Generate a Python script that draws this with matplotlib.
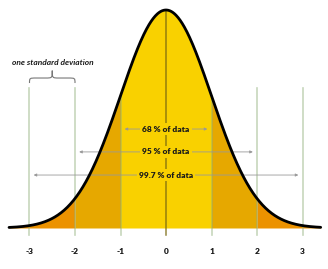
import numpy as np
import matplotlib.pyplot as plt
from matplotlib.path import Path
from matplotlib.patches import PathPatch

# standard deviations marked on the axis
ticks = [-3, -2, -1, 0, 1, 2, 3]
tick_labels = ['-3', '-2', '-1', '0', '1', '2', '3']
# band edges and their fill colours
bands = [(-3.45, -3), (-3, -2), (-2, -1), (-1, 1), (1, 2), (2, 3), (3, 3.4)]
band_colors = ['#ec9200', '#ec9200', '#e6a800', '#f9d100', '#e6a800', '#ec9200', '#ec9200']
# coverage arrows
spans = [1, 2, 3]
span_labels = ['68 % of data', '95 % of data', '99.7 % of data']
span_y = [0.454, 0.349, 0.243]

font = 'Lato'

fig = plt.figure(figsize=(3.28, 2.69), dpi=100)
ax = fig.add_axes([0, 0, 1, 1])
ax.set_xlim(-166 / 45.5, (328 - 166) / 45.5)
ax.set_ylim(-41 / 218, 228 / 218)
ax.axis('off')


def curve(x):
    return np.exp(-x ** 2 / 2)


for (a, b), c in zip(bands, band_colors):
    xs = np.linspace(a, b, 200)
    ax.fill_between(xs, 0, curve(xs), color=c, lw=0, zorder=1)

xs = np.linspace(-3.45, 3.4, 600)
ax.plot(xs, curve(xs), color='black', lw=2, zorder=5, solid_capstyle='round')

# vertical guide lines
for t in [-3, -2, 2, 3]:
    ax.plot([t, t], [-0.032, 0.642], color='#8fb07a', alpha=0.5, lw=1.2, zorder=2)
for t in [-1, 1]:
    ax.plot([t, t], [-0.032, curve(t)], color='#8fb07a', alpha=0.5, lw=1.2, zorder=2)
ax.plot([0, 0], [-0.032, 1], color='#7a6a10', alpha=0.8, lw=1.1, zorder=2)

# coverage arrows with labels
for s, lab, y in zip(spans, span_labels, span_y):
    ax.annotate('', xy=(-s, y), xytext=(s, y),
                arrowprops=dict(arrowstyle='<|-|>', color='#999999', lw=0.6,
                                mutation_scale=4, shrinkA=3, shrinkB=3), zorder=3)
    ax.text(0, y, lab, ha='center', va='center', fontsize=6, fontweight='heavy',
            family=font, color='#1a1a1a', zorder=4,
            bbox=dict(facecolor='#f9d100', edgecolor='none', pad=1.5))

# tick labels
for t, lab in zip(ticks, tick_labels):
    ax.text(t, -0.106, lab, ha='center', va='center', fontsize=6,
            fontweight='heavy', family=font, color='#1a1a1a')

# curly brace over one standard deviation
l, r, m = -3.0, -2.0, -2.5
ye, yh, yt = 0.665, 0.688, 0.722
k = 0.15
verts = [(l, ye), (l, yh), (l, yh), (l + k, yh),
         (m - k, yh), (m, yh), (m, yh), (m, yt),
         (m, yh), (m, yh), (m + k, yh),
         (r - k, yh), (r, yh), (r, yh), (r, ye)]
codes = [Path.MOVETO, Path.CURVE4, Path.CURVE4, Path.CURVE4,
         Path.LINETO, Path.CURVE4, Path.CURVE4, Path.CURVE4,
         Path.CURVE4, Path.CURVE4, Path.CURVE4,
         Path.LINETO, Path.CURVE4, Path.CURVE4, Path.CURVE4]
ax.add_patch(PathPatch(Path(verts, codes), facecolor='none', edgecolor='#777777', lw=0.8))
ax.text(-2.49, 0.761, 'one standard deviation', ha='center', va='center', fontsize=6,
        fontweight='bold', style='italic', family=font, color='#1a1a1a')

fig.savefig('out.png', dpi=100)
